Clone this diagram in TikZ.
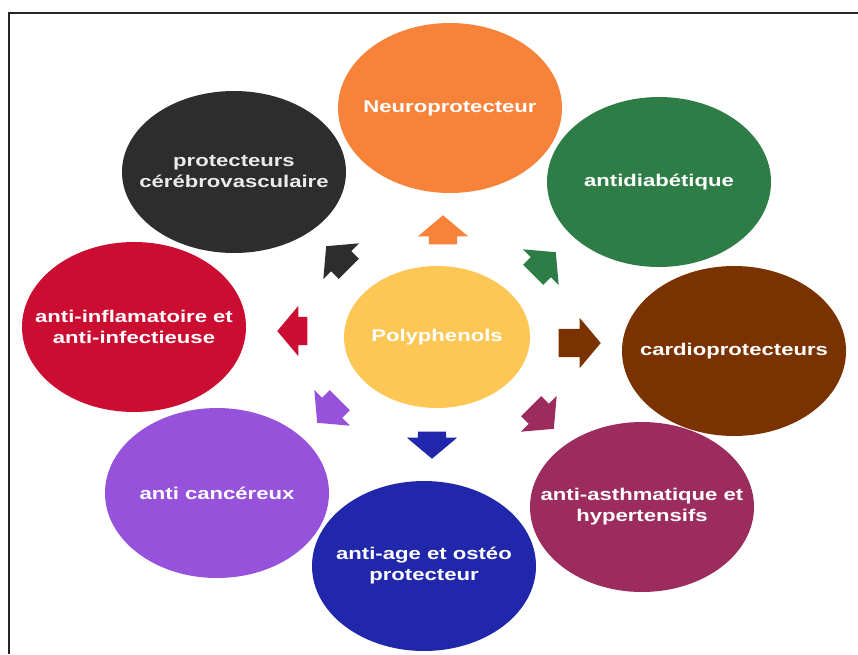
\documentclass[tikz,border=0pt]{standalone}
\usepackage{fontspec}
\newfontfamily\bubblefont[FakeStretch=1.3]{Liberation Sans}
\usepackage{tikz}
\usetikzlibrary{shapes,arrows}
\definecolor{neuro}{HTML}{F7823A}
\definecolor{diab}{HTML}{2E7D46}
\definecolor{cerebro}{HTML}{2D2D2D}
\definecolor{inflam}{HTML}{CB0D31}
\definecolor{poly}{HTML}{FCC755}
\definecolor{cardio}{HTML}{7A3300}
\definecolor{asthme}{HTML}{9C2C5E}
\definecolor{cancer}{HTML}{9752DB}
\definecolor{osteo}{HTML}{2027AA}
\tikzset{
  bubble/.style={ellipse, minimum width=224pt, minimum height=170pt, inner xsep=-75pt, inner ysep=-5pt,
    align=center, text=white, font=\bubblefont\bfseries\fontsize{17}{21}\selectfont},
  bigarrow/.style={single arrow, anchor=tip, inner xsep=0pt, inner ysep=14pt,
    single arrow head extend=11pt, single arrow tip angle=100, minimum height=32pt}
}

\begin{document}
\begin{tikzpicture}[x=1pt,y=-1pt]
\useasboundingbox (0,0) rectangle (858,654);

% to draw the frame
\draw [line width=1.6pt, black!85] (9,654) -- (9,13) -- (858,13);

% to draw the outer circles
\node [bubble, fill=neuro] (neuro) at (450,108) {Neuroprotecteur};
\node [bubble, fill=diab] (diab) at (659,182) {antidiab\'etique};
\node [bubble, fill=cerebro, minimum height=162pt, text=white!92!black] (cerebro) at (234,172) {protecteurs\\c\'er\'ebrovasculaire};
\node [bubble, fill=inflam] (inflam) at (134,327) {anti-inflamatoire et\\anti-infectieuse};
\node [bubble, fill=cardio] (cardio) at (734,351) {cardioprotecteurs};
\node [bubble, fill=asthme] (asthme) at (642,507) {anti-asthmatique et\\hypertensifs};
\node [bubble, fill=cancer] (cancer) at (217,493) {anti canc\'ereux};
\node [bubble, fill=osteo] (osteo) at (424,566) {anti-age et ost\'eo\\protecteur};

% to draw the centre
\node [bubble, fill=poly, minimum width=186pt, minimum height=142pt] (poly) at (437,337) {Polyphenols};

% to draw arrows towards each effect (placed at their tips)
\node [bigarrow, fill=neuro, rotate=90, minimum height=29pt] (aneuro) at (443,215) {};
\node [bigarrow, fill=diab, rotate=45] (adiab) at (556,252) {};
\node [bigarrow, fill=cerebro, rotate=135] (acerebro) at (326,246) {};
\node [bigarrow, fill=inflam, rotate=180, minimum height=30pt] (ainflam) at (277,331) {};
\node [bigarrow, fill=cardio, rotate=0, minimum height=42pt] (acardio) at (601,343) {};
\node [bigarrow, fill=asthme, rotate=-45] (aasthme) at (554,429) {};
\node [bigarrow, fill=cancer, rotate=-135] (acancer) at (317,423) {};
\node [bigarrow, fill=osteo, rotate=-90, minimum height=27pt] (aosteo) at (432,459) {};
\end{tikzpicture}
\end{document}
